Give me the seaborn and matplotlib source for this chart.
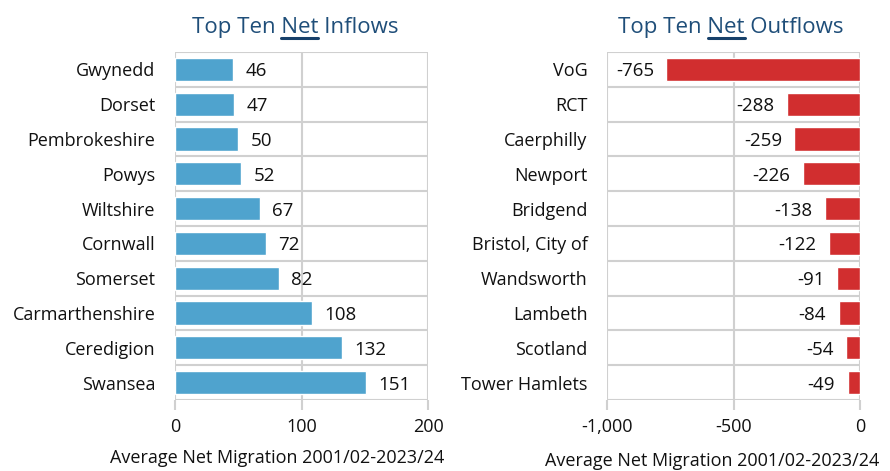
import matplotlib
matplotlib.use("Agg")
import matplotlib.pyplot as plt
import seaborn as sns
import pandas as pd

# Top ten net inflows (average net migration)
inflow_areas = ["Gwynedd", "Dorset", "Pembrokeshire", "Powys", "Wiltshire",
                "Cornwall", "Somerset", "Carmarthenshire", "Ceredigion", "Swansea"]
inflow_values = [46, 47, 50, 52, 67, 72, 82, 108, 132, 151]

# Top ten net outflows
outflow_areas = ["VoG", "RCT", "Caerphilly", "Newport", "Bridgend",
                 "Bristol, City of", "Wandsworth", "Lambeth", "Scotland", "Tower Hamlets"]
outflow_values = [-765, -288, -259, -226, -138, -122, -91, -84, -54, -49]

inflow_ticks = [0, 100, 200]
outflow_ticks = [-1000, -500, 0]
outflow_tick_labels = ["-1,000", "-500", "0"]

x_label = "Average Net Migration 2001/02-2023/24"

sns.set_theme(style="white")
plt.rcParams["font.family"] = ["Open Sans", "DejaVu Sans"]

BLUE = "#4FA3CE"
RED = "#D12E2F"
TITLE = "#1F4E79"
GRID = "#D0D0D0"

fig = plt.figure(figsize=(8.9, 4.71), dpi=100)
W, H = 890, 471
ax_l = fig.add_axes([175 / W, (H - 400) / H, 253 / W, 348 / H])
ax_r = fig.add_axes([607 / W, (H - 400) / H, 253 / W, 348 / H])

df_in = pd.DataFrame({"area": inflow_areas, "value": inflow_values})
df_out = pd.DataFrame({"area": outflow_areas, "value": outflow_values})

sns.barplot(data=df_in, x="value", y="area", orient="h", color=BLUE,
            width=0.67, saturation=1, ax=ax_l)
sns.barplot(data=df_out, x="value", y="area", orient="h", color=RED,
            width=0.67, saturation=1, ax=ax_r)

ax_l.set_xlim(0, 200)
ax_r.set_xlim(-1000, 0)
ax_l.set_xticks(inflow_ticks)
ax_l.set_xticklabels([str(t) for t in inflow_ticks])
ax_r.set_xticks(outflow_ticks)
ax_r.set_xticklabels(outflow_tick_labels)

for ax in (ax_l, ax_r):
    n = 10
    ax.set_ylim(n - 0.5, -0.5)
    # row separators and vertical gridlines
    for b in range(n + 1):
        ax.axhline(b - 0.5, color=GRID, lw=1.5, zorder=0)
    ax.grid(axis="x", color=GRID, lw=1.5, zorder=0)
    ax.set_axisbelow(True)
    for s in ax.spines.values():
        s.set_visible(False)
    ax.tick_params(axis="x", length=7, width=1.5, color=GRID, labelsize=13,
                   pad=6, labelcolor="#111111", bottom=True)
    ax.tick_params(axis="y", length=0, labelsize=13, pad=14, labelcolor="#111111")
    ax.set_ylabel("")
    ax.set_xlabel(x_label, fontsize=13, color="#111111", va="center")

    # data labels
    labels = ax.bar_label(ax.containers[0], fmt="%d", padding=9, fontsize=13.5,
                          color="#111111")
    for lab in labels:
        lab.set_va("center_baseline")

ax_l.xaxis.set_label_coords(0.403, -0.168)
ax_r.xaxis.set_label_coords(0.415, -0.174)

# Titles with the word "Net" underlined
fig.canvas.draw()
renderer = fig.canvas.get_renderer()
for rest, cx in ((" Inflows", 295), (" Outflows", 731)):
    full = "Top Ten Net" + rest
    t = fig.text(cx / W, 1 - 33 / H, full, ha="center", va="baseline",
                 fontsize=16, color=TITLE)
    bb_full = t.get_window_extent(renderer)
    probe1 = fig.text(0, 0, "Top Ten Net", fontsize=16)
    probe2 = fig.text(0, 0, "Net", fontsize=16)
    w1 = probe1.get_window_extent(renderer).width
    w2 = probe2.get_window_extent(renderer).width
    probe1.remove()
    probe2.remove()
    x_end = bb_full.x0 + w1
    x_start = x_end - w2
    y_line = 1 - 38 / H
    fig.add_artist(plt.Line2D([x_start / fig.bbox.width, x_end / fig.bbox.width],
                              [y_line, y_line], color="#17406A", lw=2.2))

fig.savefig("out.png", dpi=100)
